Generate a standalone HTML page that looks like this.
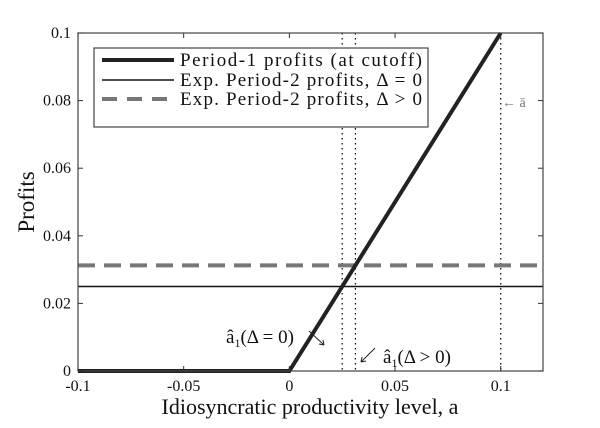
<!DOCTYPE html>
<html><head><meta charset="utf-8"><style>body{margin:0;background:#fff}svg{display:block;font-family:"Liberation Serif",serif}</style></head><body>
<svg id="c" width="600" height="428" viewBox="0 0 600 428"></svg>
<script>
const xTicks=[-0.1,-0.05,0,0.05,0.1];
const xTickLabels=["-0.1","-0.05","0","0.05","0.1"];
const yTicks=[0,0.02,0.04,0.06,0.08,0.1];
const yTickLabels=["0","0.02","0.04","0.06","0.08","0.1"];
const period1X=[-0.1,0,0.1];
const period1Y=[0,0,0.1];
const exp0Y=0.025;
const expPosY=0.03125;
const vlines=[0.025,0.03125,0.1];
const L=78,R=543,T=33,B=371,xmin=-0.1,xmax=0.12,ymin=0,ymax=0.1;
const sx=v=>L+(v-xmin)/(xmax-xmin)*(R-L);
const sy=v=>B-(v-ymin)/(ymax-ymin)*(B-T);
const svg=document.getElementById('c');const NS='http://www.w3.org/2000/svg';
function mk(t,a,p){const e=document.createElementNS(NS,t);for(const k in a)e.setAttribute(k,a[k]);(p||svg).appendChild(e);return e;}
vlines.forEach(v=>{const e=mk('line',{x1:sx(v),x2:sx(v),y1:T,y2:B,stroke:'#000','stroke-width':1.2,'stroke-dasharray':'1.5,3.5'});

});
let e1=mk('line',{x1:sx(xmin),x2:sx(xmax),y1:sy(exp0Y),y2:sy(exp0Y),stroke:'#111','stroke-width':1.6});


let e2=mk('line',{x1:sx(xmin),x2:sx(xmax),y1:sy(expPosY),y2:sy(expPosY),stroke:'#777','stroke-width':4,'stroke-dasharray':'17,9'});


let e3=mk('polyline',{points:period1X.map((x,i)=>sx(x)+','+sy(period1Y[i])).join(' '),fill:'none',stroke:'#222','stroke-width':4});


let bx=mk('rect',{x:L,y:T,width:R-L,height:B-T,fill:'none',stroke:'#444','stroke-width':1.2});


xTicks.forEach((v,i)=>{mk('line',{x1:sx(v),x2:sx(v),y1:B,y2:B-5,stroke:'#333'});mk('line',{x1:sx(v),x2:sx(v),y1:T,y2:T+5,stroke:'#333'});
const t=mk('text',{x:sx(v),y:B+20,'text-anchor':'middle','font-size':16,fill:'#111'});t.textContent=xTickLabels[i];

});
yTicks.forEach((v,i)=>{mk('line',{x1:L,x2:L+5,y1:sy(v),y2:sy(v),stroke:'#333'});mk('line',{x1:R,x2:R-5,y1:sy(v),y2:sy(v),stroke:'#333'});
const t=mk('text',{x:L-7,y:sy(v)+5,'text-anchor':'end','font-size':16,fill:'#111'});t.textContent=yTickLabels[i];

});
</script>
<svg width="600" height="428" style="position:absolute;left:0;top:0;font-family:'Liberation Serif',serif">
<text x="310" y="414" text-anchor="middle" font-size="22" fill="#111">Idiosyncratic productivity level, a</text>
<text x="0" y="0" transform="translate(34,202) rotate(-90)" text-anchor="middle" font-size="23" fill="#111">Profits</text>
<g>
<rect x="94" y="48" width="334" height="79" fill="#fff" stroke="#444" stroke-width="1.2"/>
<line x1="102" y1="60" x2="174" y2="60" stroke="#222" stroke-width="4"/>
<line x1="102" y1="80" x2="174" y2="80" stroke="#111" stroke-width="1.6"/>
<line x1="102" y1="99" x2="174" y2="99" stroke="#777" stroke-width="4" stroke-dasharray="15,10"/>
<text x="180" y="66" font-size="19" textLength="242" fill="#111">Period-1 profits (at cutoff)</text>
<text x="180" y="86" font-size="19" textLength="242" fill="#111">Exp. Period-2 profits, Δ = 0</text>
<text x="180" y="105" font-size="19" textLength="242" fill="#111">Exp. Period-2 profits, Δ &gt; 0</text>
</g>
<text x="502" y="107" font-size="14" fill="#777">← ā</text>
<text x="226" y="343" font-size="19" fill="#111">â<tspan font-size="12" dy="4">1</tspan><tspan dy="-4">(Δ = 0)</tspan></text>
<line x1="309" y1="331" x2="324" y2="345" stroke="#222"/><path d="M324 345 l-5 -1 M324 345 l-1 -5" stroke="#222"/>
<text x="383" y="363" font-size="19" fill="#111">â<tspan font-size="12" dy="4">1</tspan><tspan dy="-4">(Δ &gt; 0)</tspan></text>
<line x1="375" y1="348" x2="361" y2="362" stroke="#222"/><path d="M361 362 l1 -5 M361 362 l5 -1" stroke="#222"/>
</svg>
</body></html>
